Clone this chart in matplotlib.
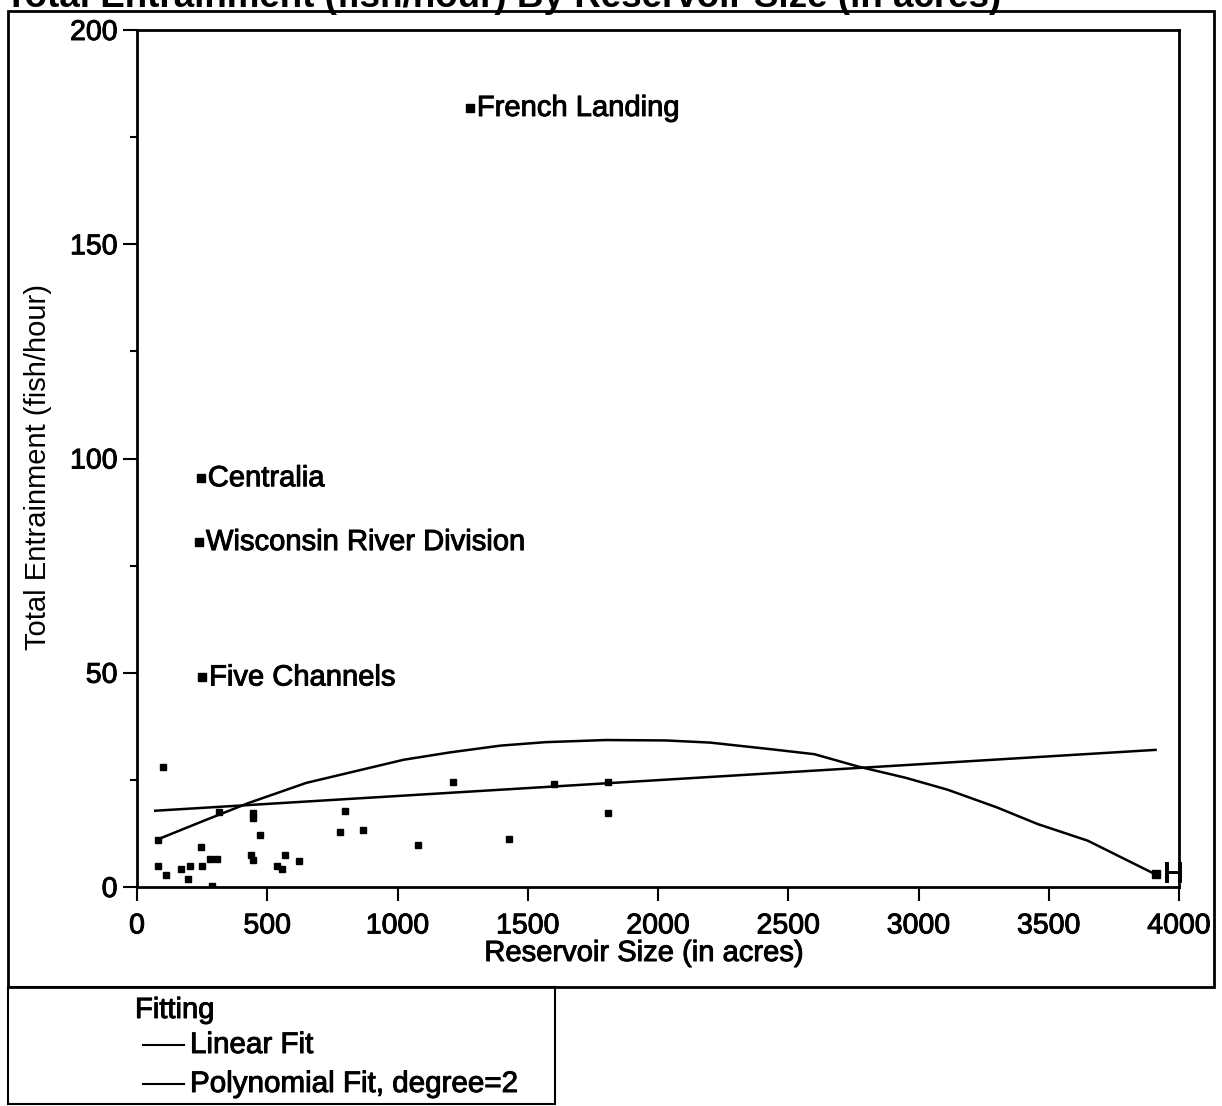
import numpy as np
import matplotlib.pyplot as plt
import matplotlib.patheffects as pe
from matplotlib.lines import Line2D
from matplotlib.patches import Rectangle

plt.rcParams['font.family'] = ['Liberation Sans', 'DejaVu Sans']

# reservoir size (acres) and total entrainment (fish/hour), unlabeled sites
size = [99, 82, 313, 445, 445, 473, 82, 112, 169, 205, 196, 247, 249, 281, 306,
        287, 437, 447, 537, 556, 569, 620, 778, 797, 868, 1080, 1213, 1427,
        1602, 1808, 1808]
entr = [28.0, 11.0, 17.5, 17.2, 16.0, 12.1, 4.8, 2.7, 4.1, 4.8, 1.9, 9.3, 4.8,
        6.5, 6.5, 0.2, 7.5, 6.2, 4.9, 4.3, 7.5, 6.1, 12.8, 17.8, 13.2, 9.8,
        24.5, 11.3, 24.0, 24.6, 17.3]

# labeled sites
lab_names = ['French Landing', 'Centralia', 'Wisconsin River Division', 'Five Channels', 'H']
lab_size = [1278, 245, 238, 250, 3910]
lab_entr = [181.8, 95.4, 80.5, 48.9, 3.0]

# fitted curves
lin_x = [70, 3910]
lin_y = [17.8, 32.0]
poly_x = [75, 250, 428, 650, 1024, 1200, 1396, 1568, 1800, 2031, 2200, 2427,
          2600, 2769, 2950, 3112, 3300, 3457, 3650, 3908]
poly_y = [11.0, 15.3, 19.6, 24.3, 29.7, 31.4, 33.0, 33.8, 34.3, 34.2, 33.7, 32.2,
          31.0, 28.1, 25.5, 22.7, 18.6, 14.7, 10.8, 3.0]

W, H = 1222, 1106
fig = plt.figure(figsize=(W / 100, H / 100), dpi=100)
heavy = [pe.withStroke(linewidth=0.7, foreground='black')]


def fx(px):
    return px / W


def fy(py):
    return 1 - py / H


ax = fig.add_axes([fx(137), fy(887), fx(1179) - fx(137), fy(30) - fy(887)])

ax.plot(lin_x, lin_y, color='black', lw=1.8)
ax.plot(poly_x, poly_y, color='black', lw=1.8)
ax.plot(size, entr, 's', color='black', ms=4.2, mec='black')
ax.plot(lab_size, lab_entr, 's', color='black', ms=5.5, mec='black')
for name, x, y in zip(lab_names, lab_size, lab_entr):
    ax.annotate(name, (x, y), xytext=(5, 0), textcoords='offset points',
                ha='left', va='center', fontsize=21, path_effects=heavy)

ax.set_xlim(0, 4000)
ax.set_ylim(0, 200)
ax.set_xticks(np.arange(0, 4001, 500))
ax.set_yticks(np.arange(0, 201, 50))
ax.set_yticks(np.arange(25, 200, 50), minor=True)
ax.tick_params(axis='both', which='major', direction='out', length=10, width=1.5,
               labelsize=20.5, color='black')
ax.tick_params(axis='x', which='major', pad=9)
ax.tick_params(axis='y', which='major', pad=4)
ax.tick_params(axis='y', which='minor', direction='out', length=5, width=1.5)
for lbl in ax.get_xticklabels() + ax.get_yticklabels():
    lbl.set_path_effects(heavy)
for sp in ax.spines.values():
    sp.set_linewidth(2)

ax.set_xlabel('Reservoir Size (in acres)', fontsize=21, path_effects=heavy)
ax.xaxis.set_label_coords((644 - 137) / (1179 - 137), (887 - 939) / (887 - 30))
ax.xaxis.label.set_va('top')
ax.set_ylabel('Total Entrainment (fish/hour)', fontsize=21)
ax.yaxis.set_label_coords((52 - 137) / (1179 - 137), (887 - 467) / (887 - 30))

# title cut off at the top of the page
fig.text(fx(5), fy(7), 'Total Entrainment (fish/hour) By Reservoir Size (in acres)',
         ha='left', va='baseline', fontsize=26.5, fontweight='bold')

# outer frame and legend box
fig.patches.append(Rectangle((fx(8), fy(987)), fx(1214) - fx(8), fy(11) - fy(987),
                             transform=fig.transFigure, fill=False, lw=2, ec='black'))
fig.patches.append(Rectangle((fx(8), fy(1104)), fx(555) - fx(8), fy(987) - fy(1104),
                             transform=fig.transFigure, fill=False, lw=1.5, ec='black'))

fig.text(fx(135), fy(1010), 'Fitting', ha='left', va='center', fontsize=21,
         path_effects=heavy)
for py, txt in [(1045, 'Linear Fit'), (1084, 'Polynomial Fit, degree=2')]:
    fig.lines.append(Line2D([fx(143), fx(184)], [fy(py), fy(py)],
                            transform=fig.transFigure, color='black', lw=1.5))
    fig.text(fx(190), fy(py), txt, ha='left', va='center', fontsize=21.3,
             path_effects=heavy)

fig.savefig('out.png', dpi=100)
